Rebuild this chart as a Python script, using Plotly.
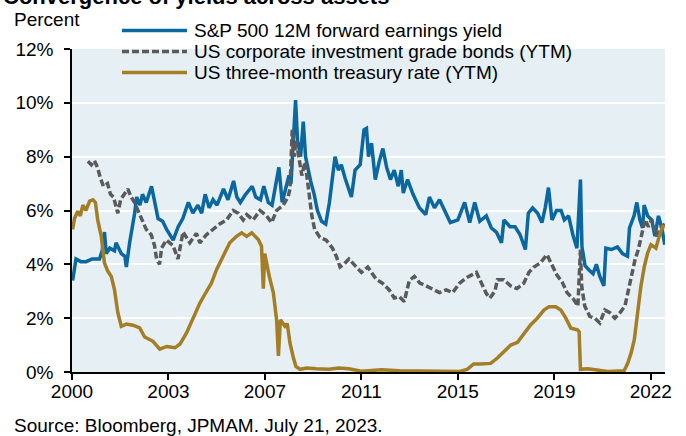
import plotly.graph_objects as go

# ---------------- data ----------------
spx_dates = ["2000-01-10","2000-02-28","2000-05-08","2000-07-24","2000-10-20","2001-02-03","2001-03-14","2001-04-16",
"2001-05-12","2001-07-02","2001-09-09","2001-10-01","2001-12-16","2002-02-06","2002-02-28","2002-04-16","2002-06-28",
"2002-07-27","2002-09-13","2002-10-20","2002-12-13","2003-02-28","2003-04-01","2003-06-03","2003-08-08","2003-10-05",
"2004-01-08","2004-03-21","2004-05-27","2004-08-15","2004-10-20","2005-01-01","2005-02-24","2005-04-16","2005-06-14",
"2005-08-08","2005-10-05","2005-11-25","2006-01-08","2006-03-14","2006-06-03","2006-07-20","2006-09-09","2006-11-25",
"2007-02-28","2007-04-20","2007-06-28","2007-08-15","2007-10-20","2007-12-13","2008-02-06","2008-03-21","2008-05-08",
"2008-07-02","2008-08-15","2008-09-13","2008-10-27","2008-11-18","2008-12-17","2009-01-30","2009-03-10","2009-04-12",
"2009-06-24","2009-08-15","2009-10-01","2009-12-01","2010-01-30","2010-03-24","2010-06-14","2010-08-01","2010-09-13",
"2010-11-07","2011-02-06","2011-04-01","2011-06-14","2011-08-08","2011-09-13","2011-10-12","2011-11-25","2012-01-19",
"2012-03-14","2012-05-08","2012-07-02","2012-08-26","2012-10-20","2012-12-17","2013-01-30","2013-02-28","2013-05-01",
"2013-07-20","2013-10-20","2014-01-19","2014-03-14","2014-05-27","2014-08-08","2014-10-20","2015-01-12","2015-05-01",
"2015-08-08","2015-10-20","2016-01-01","2016-03-14","2016-06-17","2016-08-29","2016-11-10","2017-01-23","2017-02-28",
"2017-05-27","2017-08-08","2017-10-20","2018-01-05","2018-02-17","2018-04-20","2018-07-02","2018-09-02","2018-10-20",
"2018-12-06","2019-01-26","2019-04-01","2019-06-07","2019-07-24","2019-09-24","2019-11-25","2020-01-23","2020-03-14",
"2020-04-05","2020-05-20","2020-07-13","2020-09-13","2020-10-31","2020-12-20","2021-02-17","2021-03-18","2021-06-07",
"2021-09-02","2021-11-14","2022-01-26","2022-02-24","2022-05-01","2022-06-10","2022-07-24","2022-09-02","2022-09-24",
"2022-11-14","2023-01-12","2023-02-28","2023-04-20","2023-06-07","2023-07-21"]
spx_yield = [3.4,4.2,4.1,4.1,4.2,4.2,4.5,5.2,
4.4,4.6,4.5,4.8,4.4,4.3,3.9,4.8,5.9,
6.5,6.2,6.6,6.3,6.9,6.5,5.7,5.6,5.3,
4.9,5.4,5.7,6.3,5.9,6.2,5.9,6.6,6.1,
6.4,6.2,6.5,6.8,6.4,7.1,6.5,6.3,6.6,
6.9,6.5,6.4,6.9,6.3,6.2,6.9,7.6,6.3,
6.9,7.3,7.0,9.1,10.1,8.6,8.0,9.3,8.0,
7.1,6.6,6.0,5.6,5.5,6.3,8.0,7.5,7.7,
7.2,6.5,7.5,7.7,9.0,9.05,8.0,8.5,7.15,
7.8,8.3,7.6,7.15,7.5,6.9,7.5,6.65,7.15,
6.6,6.1,5.85,6.5,6.1,6.4,6.0,5.55,5.65,
6.3,5.55,6.3,5.6,5.8,5.35,5.2,4.8,5.65,
5.4,5.4,5.1,4.55,5.9,6.1,5.9,5.55,6.1,
6.85,5.65,6.0,6.0,5.65,5.8,5.1,4.6,7.15,
4.65,3.95,3.8,3.65,4.0,3.55,3.2,4.6,4.55,
4.65,4.4,4.3,5.35,5.8,6.3,5.65,5.35,6.2,
5.8,5.65,5.05,5.8,5.35,4.73]

ig_dates = ["2000-08-19","2000-10-08","2000-11-21","2001-01-05","2001-02-17","2001-04-01","2001-05-30","2001-07-13",
"2001-08-26","2001-10-27","2001-12-06","2002-02-03","2002-03-21","2002-05-08","2002-06-28","2002-08-15","2002-10-01",
"2002-12-13","2003-02-24","2003-04-12","2003-05-12","2003-06-24","2003-07-24","2003-10-01","2004-01-05","2004-03-18",
"2004-05-30","2004-09-06","2004-12-10","2005-01-30","2005-05-04","2005-08-12","2005-11-14","2006-02-21","2006-05-27",
"2006-08-08","2006-10-20","2006-12-10","2007-03-14","2007-06-21","2007-09-24","2007-12-06","2008-02-17","2008-05-23",
"2008-08-01","2008-08-29","2008-10-01","2008-10-30","2008-11-25","2008-12-28","2009-02-17","2009-04-05","2009-05-23",
"2009-07-13","2009-08-22","2009-11-07","2010-02-06","2010-05-08","2010-07-02","2010-08-26","2010-10-20","2011-01-01",
"2011-04-01","2011-07-02","2011-10-01","2011-12-01","2012-01-30","2012-05-01","2012-08-08","2012-10-20","2013-01-01",
"2013-03-14","2013-05-27","2013-08-08","2013-10-27","2014-01-26","2014-05-08","2014-08-08","2014-11-14","2015-02-14",
"2015-05-27","2015-09-02","2015-11-14","2016-01-26","2016-04-08","2016-06-21","2016-08-08","2016-10-20","2016-11-25",
"2017-02-24","2017-06-03","2017-09-06","2017-12-13","2018-02-24","2018-05-08","2018-08-08","2018-11-14","2019-01-26",
"2019-04-08","2019-06-21","2019-09-02","2019-12-06","2020-02-06","2020-03-14","2020-04-01","2020-05-15","2020-07-27",
"2020-10-08","2020-12-20","2021-03-03","2021-05-15","2021-07-27","2021-10-08","2021-12-20","2022-02-06","2022-03-28",
"2022-05-15","2022-07-02","2022-08-19","2022-10-08","2022-11-25","2023-01-12","2023-03-25","2023-06-07","2023-07-21"]
ig_ytm = [7.83,7.7,7.85,7.6,7.2,6.9,7.0,6.6,
6.5,5.9,6.4,6.6,6.8,6.5,6.3,6.0,5.7,
5.3,5.1,4.7,4.2,4.0,4.6,4.9,4.7,4.2,
5.2,4.8,5.15,4.8,5.1,5.3,5.5,5.65,6.0,
5.9,5.65,5.85,5.65,6.0,5.8,5.55,6.0,6.2,
6.5,6.8,9.0,8.0,8.6,8.1,7.3,7.8,6.8,
5.8,5.3,5.0,4.9,4.6,4.3,3.9,4.0,4.2,
3.95,3.7,3.9,3.7,3.45,3.3,3.05,2.75,2.8,
2.62,3.4,3.55,3.3,3.2,3.05,2.95,3.05,2.95,
3.3,3.5,3.6,3.7,3.3,2.9,2.75,3.0,3.43,
3.43,3.2,3.1,3.3,3.7,3.9,4.05,4.36,4.0,
3.6,3.35,2.95,2.7,2.45,4.55,3.2,2.45,2.07,
2.0,1.82,2.3,2.2,2.0,2.2,2.45,3.05,3.7,
4.17,4.55,5.17,5.66,5.4,5.66,5.04,5.4,5.5]

tbill_dates = ["2000-01-10","2000-02-06","2000-03-25","2000-05-01","2000-06-07","2000-07-20","2000-09-13","2000-10-31",
"2000-12-06","2001-01-08","2001-02-28","2001-04-16","2001-06-03","2001-07-24","2001-09-09","2001-10-27","2001-12-16",
"2002-02-28","2002-06-03","2002-09-09","2002-11-21","2003-03-21","2003-06-28","2003-10-05","2004-02-03","2004-04-20",
"2004-07-20","2004-10-24","2005-01-30","2005-04-08","2005-07-16","2005-09-28","2006-01-01","2006-04-08","2006-07-16",
"2006-09-28","2006-12-10","2007-02-21","2007-05-27","2007-07-13","2007-08-08","2007-08-29","2007-11-03","2008-01-01",
"2008-02-17","2008-03-14","2008-04-12","2008-06-17","2008-07-20","2008-08-29","2008-10-20","2008-11-25","2009-01-23",
"2009-05-01","2009-09-13","2010-03-14","2010-08-08","2011-01-01","2011-07-02","2012-04-20","2013-01-01","2013-10-20",
"2014-08-08","2015-05-27","2015-09-13","2015-12-17","2016-03-25","2016-08-19","2016-11-25","2017-02-28","2017-06-07",
"2017-09-13","2017-12-17","2018-03-21","2018-06-28","2018-10-01","2018-12-13","2019-03-21","2019-06-03","2019-08-15",
"2019-10-27","2020-01-30","2020-02-24","2020-03-14","2020-07-02","2020-11-25","2021-04-12","2021-12-09","2022-01-30",
"2022-03-18","2022-05-05","2022-06-21","2022-08-08","2022-09-28","2022-11-14","2023-01-01","2023-03-14","2023-05-01",
"2023-06-21","2023-07-21"]
tbill_ytm = [5.3,5.7,5.97,5.8,6.2,6.0,6.35,6.4,
6.3,5.65,5.05,4.05,3.75,3.55,3.05,2.2,1.7,
1.78,1.74,1.64,1.3,1.14,0.85,0.95,0.9,1.05,
1.45,2.0,2.56,2.87,3.3,3.8,4.3,4.8,5.04,
5.17,5.04,5.17,4.92,4.67,3.1,4.4,3.55,2.94,
1.94,0.6,1.94,1.7,1.8,1.08,0.5,0.2,0.1,
0.15,0.12,0.1,0.15,0.12,0.03,0.08,0.05,0.03,
0.02,0.02,0.1,0.3,0.3,0.32,0.52,0.77,1.0,
1.1,1.45,1.75,2.0,2.3,2.42,2.42,2.3,2.0,
1.63,1.57,1.5,0.1,0.12,0.08,0.02,0.05,0.33,
0.7,1.2,2.19,3.18,3.93,4.42,4.73,4.6,5.04,
5.41,5.4]

series_names = ["S&P 500 12M forward earnings yield",
                "US corporate investment grade bonds (YTM)",
                "US three-month treasury rate (YTM)"]
series_colors = ["#0A67A0", "#5A5A5A", "#A47E24"]

tick_dates = ["2000-01-01","2003-11-01","2007-08-31","2011-07-01","2015-04-30","2019-03-01","2022-12-30"]
tick_labels = ["2000","2003","2007","2011","2015","2019","2022"]
y_ticks = [0, 2, 4, 6, 8, 10, 12]
y_labels = ["0%","2%","4%","6%","8%","10%","12%"]

title_text = "Convergence of yields across assets"
unit_text = "Percent"
source_text = "Source: Bloomberg, JPMAM. July 21, 2023."

# ---------------- figure ----------------
FONT = "Arial, 'Liberation Sans', sans-serif"
W, H = 686, 436
L, R, T, B = 72, 21, 49, 64
PW, PH = W - L - R, H - T - B

def px_x(px):
    return (px - L) / PW

def px_y(py):
    return (H - B - py) / PH

fig = go.Figure()
dashes = ["solid", "7px,3px", "solid"]
for name, xs, ys, col, dash in zip(series_names,
                                   [spx_dates, ig_dates, tbill_dates],
                                   [spx_yield, ig_ytm, tbill_ytm],
                                   series_colors, dashes):
    fig.add_trace(go.Scatter(x=xs, y=ys, mode="lines", name=name,
                             line=dict(color=col, width=3.5, dash=dash),
                             showlegend=False))

# manual legend (long line samples like the reference)
legend_rows = [30.5, 51.5, 72.5]
for name, col, dash, py in zip(series_names, series_colors, dashes, legend_rows):
    fig.add_shape(type="line", xref="paper", yref="paper",
                  x0=px_x(122), x1=px_x(187), y0=px_y(py), y1=px_y(py),
                  line=dict(color=col, width=3.5, dash=dash))
    fig.add_annotation(xref="paper", yref="paper", x=px_x(192), y=px_y(py),
                       xanchor="left", yanchor="middle", text=name, showarrow=False,
                       font=dict(family=FONT, size=19, color="#000000"))

# title is cropped at the top edge in the reference
fig.add_annotation(xref="paper", yref="paper", x=px_x(1), y=px_y(-4),
                   xanchor="left", yanchor="middle", text="<b>" + title_text + "</b>",
                   showarrow=False, font=dict(family=FONT, size=22, color="#000000"))
fig.add_annotation(xref="paper", yref="paper", x=px_x(12), y=px_y(19),
                   xanchor="left", yanchor="middle", text=unit_text,
                   showarrow=False, font=dict(family=FONT, size=19, color="#000000"))
fig.add_annotation(xref="paper", yref="paper", x=px_x(12), y=px_y(425),
                   xanchor="left", yanchor="middle", text=source_text,
                   showarrow=False, font=dict(family=FONT, size=19, color="#000000"))

fig.update_layout(
    width=W, height=H,
    margin=dict(l=L, r=R, t=T, b=B, pad=0),
    paper_bgcolor="#FFFFFF", plot_bgcolor="#E6EFF3",
    font=dict(family=FONT, size=19, color="#000000"),
    showlegend=False,
)
fig.update_xaxes(type="date", range=["2000-01-01", "2023-07-24"],
                 tickmode="array", tickvals=tick_dates, ticktext=tick_labels,
                 showgrid=False, showline=True, linecolor="#000000", linewidth=2,
                 ticks="outside", ticklen=6, tickwidth=1.5, tickcolor="#000000",
                 ticklabelstandoff=-5, tickfont=dict(size=19), zeroline=False)
fig.update_yaxes(range=[0, 12], tickmode="array", tickvals=y_ticks, ticktext=y_labels,
                 showgrid=True, gridcolor="#FFFFFF", gridwidth=2,
                 showline=True, linecolor="#000000", linewidth=1.5,
                 ticks="outside", ticklen=6, tickwidth=1.5, tickcolor="#000000",
                 ticklabelstandoff=7, tickfont=dict(size=19), zeroline=False)

fig.write_html("out.html", config={"displayModeBar": False},
               post_script="document.body.style.margin='0';document.body.style.overflow='hidden';")
